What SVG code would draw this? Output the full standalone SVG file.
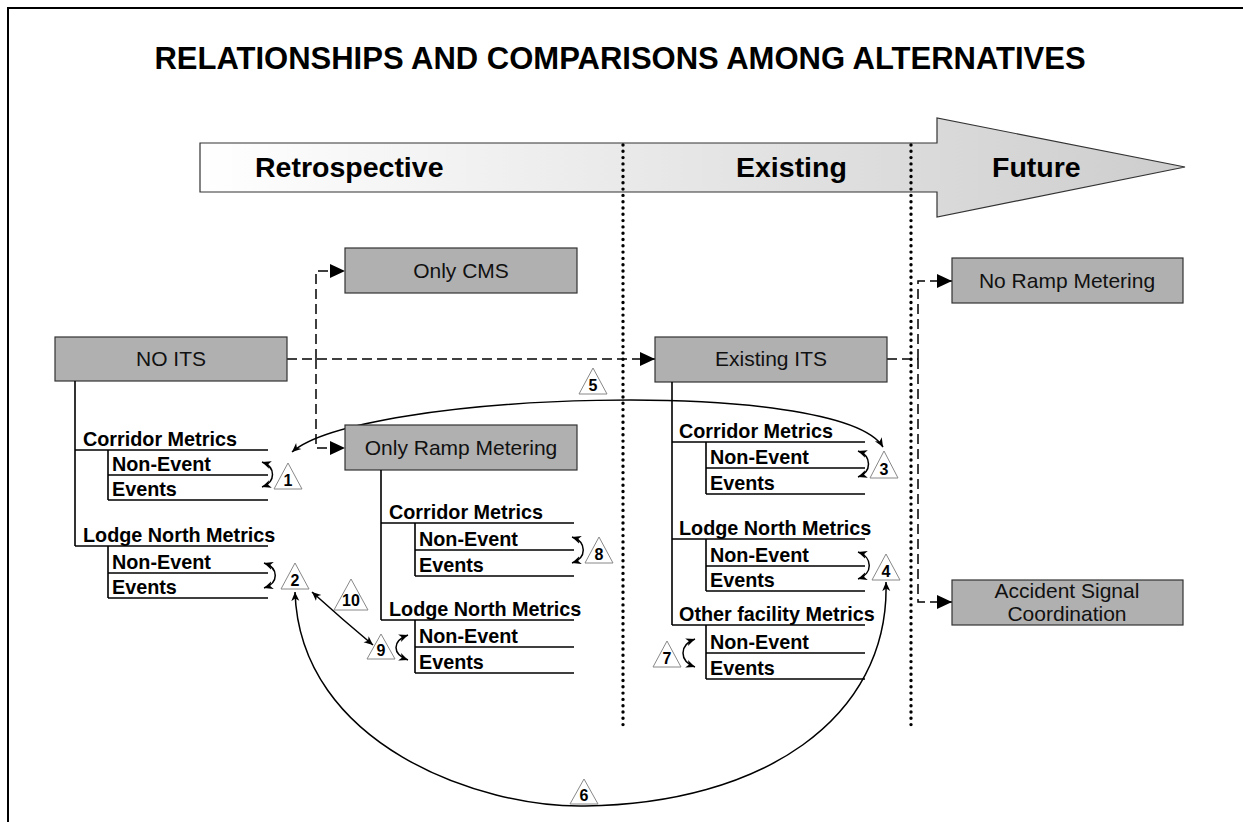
<svg xmlns="http://www.w3.org/2000/svg" width="1243" height="822" viewBox="0 0 1243 822">
<defs>
<linearGradient id="g" gradientUnits="userSpaceOnUse" x1="200" y1="0" x2="1185" y2="0">
<stop offset="0" stop-color="#ffffff"/><stop offset="1" stop-color="#cdcdcd"/>
</linearGradient>
<marker id="ah" markerUnits="userSpaceOnUse" markerWidth="16" markerHeight="14" refX="15" refY="7" orient="auto"><path d="M0,0 L15,7 L0,14 z" fill="#000"/></marker>
<marker id="sa" markerUnits="userSpaceOnUse" markerWidth="10" markerHeight="10" refX="9" refY="5" orient="auto-start-reverse"><path d="M0,1 L9,5 L0,9 L2.5,5 z" fill="#000"/></marker>
<style>
.box{fill:#b0b0b0;stroke:#333;stroke-width:1.2}
.bt{font-family:"Liberation Sans",Arial,sans-serif;font-size:21px;fill:#111;text-anchor:middle}
.tl{font-family:"Liberation Sans",Arial,sans-serif;font-size:19.8px;font-weight:bold;fill:#000}
.sec{font-family:"Liberation Sans",Arial,sans-serif;font-size:28.5px;font-weight:bold;fill:#000}
.ln{stroke:#000;stroke-width:1.6;fill:none}
.dash{stroke:#000;stroke-width:1.5;fill:none;stroke-dasharray:10 5}
.dot{stroke:#000;stroke-width:3.4;stroke-linecap:round;stroke-dasharray:0 6.3;fill:none}
.cv{stroke:#000;stroke-width:1.5;fill:none;marker-start:url(#sa);marker-end:url(#sa)}
.tri{fill:#fff;stroke:#888;stroke-width:1}
.tn{font-family:"Liberation Sans",Arial,sans-serif;font-size:16px;font-weight:bold;text-anchor:middle;fill:#000}
</style>
</defs>
<rect width="1243" height="822" fill="#fff"/>
<path d="M8,822 V8 H1243" fill="none" stroke="#000" stroke-width="2"/>
<text x="620" y="69" font-family="'Liberation Sans',Arial,sans-serif" font-size="31" font-weight="bold" text-anchor="middle">RELATIONSHIPS AND COMPARISONS AMONG ALTERNATIVES</text>

<g id="timeline">
<path d="M200,143 H937 V118 L1185,167 L937,217 V192 H200 Z" fill="url(#g)" stroke="#333" stroke-width="1.2"/>
<text class="sec" x="255" y="177">Retrospective</text>
<text class="sec" x="736" y="177">Existing</text>
<text class="sec" x="992" y="177">Future</text>
</g>
<g id="dividers">
<path class="dot" d="M623,145 V725"/>
<path class="dot" d="M911,145 V725"/>
</g>

<g id="connectors">
<path class="dash" d="M287,359 H655" marker-end="url(#ah)"/>
<path class="dash" d="M316,359 V271 H345" marker-end="url(#ah)"/>
<path class="dash" d="M316,359 V448 H345" marker-end="url(#ah)"/>
<path class="dash" d="M887,359 H918"/>
<path class="dash" d="M918,359 V281 H952" marker-end="url(#ah)"/>
<path class="dash" d="M918,359 V602 H952" marker-end="url(#ah)"/>
<path class="cv" d="M292,452 C360,392 840,376 883,447"/>
<path class="cv" d="M295,592 C300,745 480,808 585,806 C760,804 890,720 886,582"/>
<path class="cv" d="M312,592 Q343,620 373,645"/>
<path class="cv" d="M262,462 C276,467 276,482 262,487"/>
<path class="cv" d="M264,563 C279,568 279,583 264,588"/>
<path class="cv" d="M858,451 C872,456 872,472 858,477"/>
<path class="cv" d="M858,552 C873,557 873,574 858,579"/>
<path class="cv" d="M695,639 C679,645 679,661 695,667"/>
<path class="cv" d="M572,537 C587,542 587,558 572,563"/>
<path class="cv" d="M408,635 C392,641 392,654 408,660"/>
</g>

<g id="no-its">
<rect class="box" x="55" y="337" width="232" height="44"/>
<text class="bt" x="171" y="366">NO ITS</text>
<path class="ln" d="M75,381 V546 M75,450 H268 M108,450 V500 M108,475 H268 M108,500 H268 M75,546 H268 M108,546 V598 M108,573 H268 M108,598 H268"/>
<text class="tl" x="83" y="446">Corridor Metrics</text>
<text class="tl" x="112" y="471">Non-Event</text>
<text class="tl" x="112" y="496">Events</text>
<text class="tl" x="83" y="542">Lodge North Metrics</text>
<text class="tl" x="112" y="569">Non-Event</text>
<text class="tl" x="112" y="594">Events</text>
</g>

<g id="only-cms">
<rect class="box" x="345" y="248" width="232" height="45"/>
<text class="bt" x="461" y="278">Only CMS</text>
</g>

<g id="only-ramp">
<rect class="box" x="345" y="425" width="232" height="45"/>
<text class="bt" x="461" y="455">Only Ramp Metering</text>
<path class="ln" d="M381,470 V620 M381,523 H574 M415,523 V576 M415,550 H574 M415,576 H574 M381,620 H574 M415,620 V673 M415,647 H574 M415,673 H574"/>
<text class="tl" x="389" y="519">Corridor Metrics</text>
<text class="tl" x="419" y="546">Non-Event</text>
<text class="tl" x="419" y="572">Events</text>
<text class="tl" x="389" y="616">Lodge North Metrics</text>
<text class="tl" x="419" y="643">Non-Event</text>
<text class="tl" x="419" y="669">Events</text>
</g>

<g id="existing-its">
<rect class="box" x="655" y="337" width="232" height="45"/>
<text class="bt" x="771" y="366">Existing ITS</text>
<path class="ln" d="M672,382 V625 M672,442 H865 M706,442 V494 M706,468 H865 M706,494 H865 M672,539 H865 M706,539 V591 M706,566 H865 M706,591 H865 M672,625 H865 M706,625 V679 M706,653 H865 M706,679 H865"/>
<text class="tl" x="679" y="438">Corridor Metrics</text>
<text class="tl" x="710" y="464">Non-Event</text>
<text class="tl" x="710" y="490">Events</text>
<text class="tl" x="679" y="535">Lodge North Metrics</text>
<text class="tl" x="710" y="562">Non-Event</text>
<text class="tl" x="710" y="587">Events</text>
<text class="tl" x="679" y="621">Other facility Metrics</text>
<text class="tl" x="710" y="649">Non-Event</text>
<text class="tl" x="710" y="675">Events</text>
</g>

<g id="no-ramp">
<rect class="box" x="952" y="258" width="231" height="45"/>
<text class="bt" x="1067" y="288">No Ramp Metering</text>
</g>

<g id="accident-signal">
<rect class="box" x="952" y="580" width="231" height="45"/>
<text class="bt" x="1067" y="598">Accident Signal</text>
<text class="bt" x="1067" y="621">Coordination</text>
</g>

<g id="markers">
<polygon class="tri" points="288,463 274,489 302,489"/><text class="tn" x="288" y="486">1</text>
<polygon class="tri" points="295,563 281,589 309,589"/><text class="tn" x="295" y="586">2</text>
<polygon class="tri" points="884,451 870,478 898,478"/><text class="tn" x="884" y="475">3</text>
<polygon class="tri" points="886,554 872,580 900,580"/><text class="tn" x="886" y="577">4</text>
<polygon class="tri" points="593,368 579,394 607,394"/><text class="tn" x="593" y="391">5</text>
<polygon class="tri" points="584,779 570,804 598,804"/><text class="tn" x="584" y="801">6</text>
<polygon class="tri" points="667,641 653,667 681,667"/><text class="tn" x="667" y="664">7</text>
<polygon class="tri" points="599,537 585,563 613,563"/><text class="tn" x="599" y="560">8</text>
<polygon class="tri" points="381,634 367,659 395,659"/><text class="tn" x="381" y="656">9</text>
<polygon class="tri" points="351,579 334,610 368,610"/><text class="tn" x="351" y="606">10</text>
</g>
</svg>
